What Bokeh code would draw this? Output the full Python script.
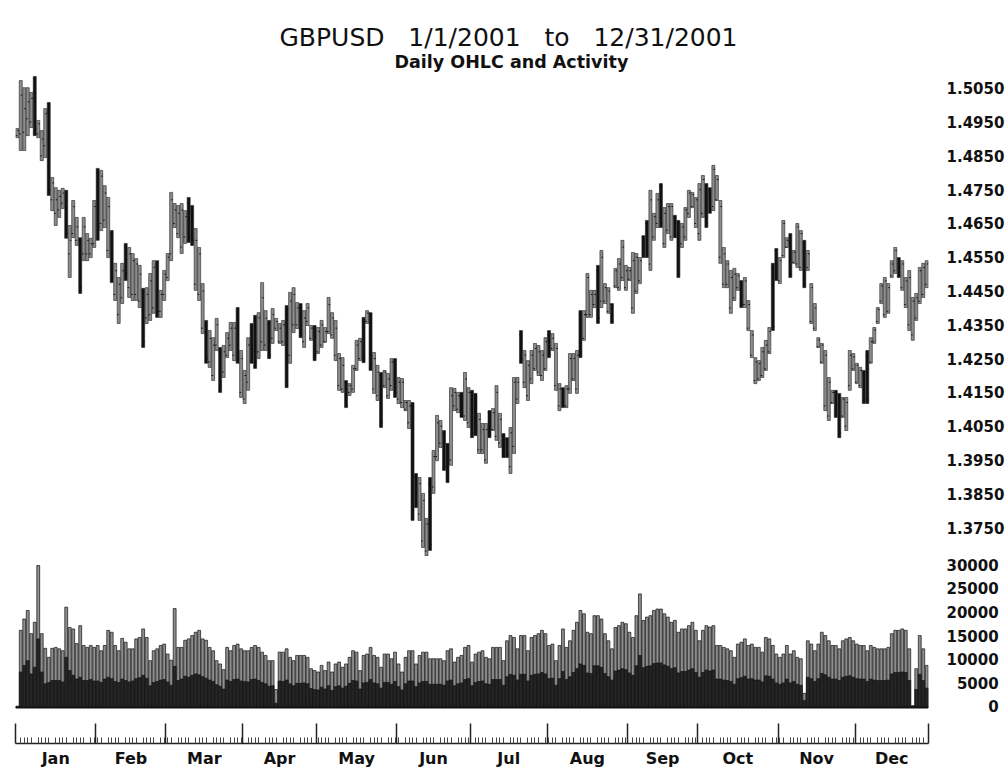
import numpy as np
from bokeh.plotting import figure
from bokeh.layouts import column
from bokeh.models import (Range1d, FixedTicker, Title, Span, LinearAxis,
                          NumeralTickFormatter, ColumnDataSource)
from bokeh.embed import file_html
from bokeh.resources import INLINE

title_text = "GBPUSD\u00a0\u00a0 1/1/2001\u00a0\u00a0 to\u00a0\u00a0 12/31/2001"
subtitle_text = "Daily OHLC and Activity"

months = ["Jan", "Feb", "Mar", "Apr", "May", "Jun",
          "Jul", "Aug", "Sep", "Oct", "Nov", "Dec"]
month_days = [23, 20, 22, 21, 23, 21, 22, 23, 20, 23, 22, 21]

price_ticks = [1.3750, 1.3850, 1.3950, 1.4050, 1.4150, 1.4250, 1.4350,
               1.4450, 1.4550, 1.4650, 1.4750, 1.4850, 1.4950, 1.5050]
volume_ticks = [0, 5000, 10000, 15000, 20000, 25000, 30000]

open_ = [
    1.4910, 1.4915, 1.4920, 1.4960, 1.4950, 1.5040, 1.4915, 1.4850, 1.4880, 1.4980, 1.4720, 1.4680, 1.4690, 1.4710, 1.4730, 1.4560, 1.4620, 1.4600, 1.4600, 1.4560, 1.4560, 1.4560, 1.4590,
    1.4800, 1.4650, 1.4660, 1.4570, 1.4620, 1.4440, 1.4380, 1.4430, 1.4580, 1.4460, 1.4440, 1.4440, 1.4420, 1.4450, 1.4370, 1.4380, 1.4400, 1.4530, 1.4390, 1.4440,
    1.4490, 1.4560, 1.4650, 1.4620, 1.4580, 1.4610, 1.4710, 1.4690, 1.4470, 1.4440, 1.4340, 1.4350, 1.4240, 1.4200, 1.4290, 1.4270, 1.4210, 1.4260, 1.4290, 1.4260, 1.4380, 1.4150,
    1.4130, 1.4180, 1.4340, 1.4360, 1.4270, 1.4300, 1.4290, 1.4350, 1.4310, 1.4340, 1.4300, 1.4300, 1.4380, 1.4260, 1.4350, 1.4350, 1.4400, 1.4300, 1.4360, 1.4310, 1.4340,
    1.4270, 1.4290, 1.4300, 1.4330, 1.4320, 1.4260, 1.4170, 1.4160, 1.4180, 1.4150, 1.4160, 1.4220, 1.4250, 1.4360, 1.4360, 1.4380, 1.4160, 1.4140, 1.4200, 1.4170, 1.4140, 1.4170, 1.4240,
    1.4130, 1.4120, 1.4100, 1.4060, 1.4100, 1.3900, 1.3790, 1.3710, 1.3680, 1.3880, 1.3870, 1.3960, 1.4000, 1.4030, 1.3990, 1.3950, 1.4110, 1.4100, 1.4140, 1.4080, 1.4060,
    1.4150, 1.4140, 1.3980, 1.3980, 1.3950, 1.4090, 1.4040, 1.4020, 1.4000, 1.4020, 1.4010, 1.3930, 1.3990, 1.4130, 1.4320, 1.4180, 1.4140, 1.4190, 1.4220, 1.4210, 1.4200, 1.4220,
    1.4320, 1.4280, 1.4170, 1.4110, 1.4160, 1.4110, 1.4160, 1.4190, 1.4160, 1.4380, 1.4310, 1.4380, 1.4380, 1.4410, 1.4510, 1.4420, 1.4420, 1.4390, 1.4410, 1.4465, 1.4460, 1.4490, 1.4460,
    1.4485, 1.4400, 1.4450, 1.4480, 1.4610, 1.4650, 1.4530, 1.4610, 1.4650, 1.4760, 1.4590, 1.4630, 1.4610, 1.4670, 1.4650, 1.4590, 1.4610, 1.4680, 1.4700, 1.4650,
    1.4620, 1.4680, 1.4760, 1.4750, 1.4700, 1.4720, 1.4550, 1.4470, 1.4470, 1.4400, 1.4430, 1.4460, 1.4475, 1.4410, 1.4340, 1.4260, 1.4185, 1.4190, 1.4200, 1.4220, 1.4270, 1.4520, 1.4570,
    1.4480, 1.4555, 1.4580, 1.4610, 1.4535, 1.4530, 1.4520, 1.4590, 1.4520, 1.4360, 1.4340, 1.4285, 1.4240, 1.4110, 1.4080, 1.4120, 1.4150, 1.4140, 1.4080, 1.4050, 1.4170, 1.4220,
    1.4180, 1.4170, 1.4210, 1.4260, 1.4240, 1.4300, 1.4360, 1.4420, 1.4380, 1.4390, 1.4495, 1.4510, 1.4545, 1.4460, 1.4410, 1.4350, 1.4320, 1.4370, 1.4420, 1.4440, 1.4470,
]
high = [
    1.4931, 1.5073, 1.5052, 1.5052, 1.5038, 1.5085, 1.4955, 1.4925, 1.4990, 1.5008, 1.4786, 1.4756, 1.4748, 1.4754, 1.4748, 1.4644, 1.4718, 1.4668, 1.4608, 1.4668, 1.4620, 1.4606, 1.4718,
    1.4813, 1.4807, 1.4762, 1.4727, 1.4629, 1.4532, 1.4490, 1.4532, 1.4591, 1.4579, 1.4561, 1.4546, 1.4526, 1.4458, 1.4460, 1.4502, 1.4540, 1.4540, 1.4452, 1.4511,
    1.4561, 1.4742, 1.4709, 1.4703, 1.4709, 1.4688, 1.4727, 1.4703, 1.4635, 1.4579, 1.4472, 1.4363, 1.4333, 1.4312, 1.4369, 1.4283, 1.4289, 1.4327, 1.4357, 1.4357, 1.4401, 1.4274,
    1.4215, 1.4312, 1.4354, 1.4378, 1.4386, 1.4475, 1.4392, 1.4363, 1.4398, 1.4369, 1.4354, 1.4363, 1.4407, 1.4446, 1.4460, 1.4416, 1.4413, 1.4392, 1.4413, 1.4348, 1.4348,
    1.4342, 1.4363, 1.4342, 1.4431, 1.4386, 1.4363, 1.4265, 1.4253, 1.4185, 1.4176, 1.4230, 1.4304, 1.4310, 1.4372, 1.4392, 1.4386, 1.4268, 1.4230, 1.4209, 1.4215, 1.4206, 1.4250, 1.4250,
    1.4194, 1.4191, 1.4126, 1.4126, 1.4120, 1.3910, 1.3898, 1.3851, 1.3777, 1.3898, 1.3978, 1.4082, 1.4067, 1.4037, 1.3999, 1.4164, 1.4162, 1.4150, 1.4150, 1.4209, 1.4164,
    1.4156, 1.4147, 1.4088, 1.4058, 1.4058, 1.4096, 1.4102, 1.4170, 1.4088, 1.4028, 1.4016, 1.4046, 1.4194, 1.4194, 1.4333, 1.4274, 1.4244, 1.4274, 1.4295, 1.4289, 1.4274, 1.4312,
    1.4333, 1.4324, 1.4295, 1.4176, 1.4164, 1.4170, 1.4265, 1.4265, 1.4274, 1.4392, 1.4392, 1.4502, 1.4452, 1.4452, 1.4526, 1.4570, 1.4472, 1.4460, 1.4413, 1.4517, 1.4546, 1.4600, 1.4526,
    1.4520, 1.4564, 1.4561, 1.4549, 1.4614, 1.4659, 1.4748, 1.4680, 1.4739, 1.4768, 1.4697, 1.4709, 1.4709, 1.4674, 1.4659, 1.4650, 1.4697, 1.4748, 1.4742, 1.4727,
    1.4768, 1.4792, 1.4768, 1.4756, 1.4822, 1.4792, 1.4718, 1.4579, 1.4540, 1.4511, 1.4517, 1.4502, 1.4481, 1.4490, 1.4422, 1.4333, 1.4253, 1.4244, 1.4283, 1.4304, 1.4342, 1.4532, 1.4576,
    1.4549, 1.4659, 1.4608, 1.4620, 1.4570, 1.4650, 1.4629, 1.4600, 1.4570, 1.4472, 1.4413, 1.4312, 1.4295, 1.4274, 1.4194, 1.4156, 1.4156, 1.4147, 1.4135, 1.4135, 1.4274, 1.4265,
    1.4236, 1.4224, 1.4215, 1.4274, 1.4312, 1.4342, 1.4401, 1.4472, 1.4490, 1.4472, 1.4540, 1.4579, 1.4549, 1.4540, 1.4490, 1.4511, 1.4431, 1.4443, 1.4520, 1.4532, 1.4540,
]
low = [
    1.4904, 1.4866, 1.4866, 1.4910, 1.4934, 1.4910, 1.4904, 1.4836, 1.4845, 1.4733, 1.4688, 1.4644, 1.4668, 1.4694, 1.4606, 1.4490, 1.4608, 1.4585, 1.4443, 1.4540, 1.4540, 1.4549, 1.4579,
    1.4600, 1.4629, 1.4638, 1.4549, 1.4475, 1.4422, 1.4354, 1.4413, 1.4481, 1.4431, 1.4422, 1.4422, 1.4401, 1.4283, 1.4354, 1.4363, 1.4384, 1.4372, 1.4372, 1.4422,
    1.4481, 1.4540, 1.4638, 1.4608, 1.4561, 1.4591, 1.4594, 1.4585, 1.4452, 1.4422, 1.4324, 1.4236, 1.4224, 1.4185, 1.4274, 1.4150, 1.4194, 1.4253, 1.4274, 1.4244, 1.4236, 1.4135,
    1.4117, 1.4156, 1.4236, 1.4221, 1.4250, 1.4274, 1.4274, 1.4250, 1.4295, 1.4333, 1.4295, 1.4289, 1.4164, 1.4236, 1.4327, 1.4339, 1.4312, 1.4283, 1.4348, 1.4304, 1.4244,
    1.4265, 1.4283, 1.4298, 1.4324, 1.4310, 1.4244, 1.4156, 1.4150, 1.4105, 1.4141, 1.4150, 1.4215, 1.4244, 1.4238, 1.4354, 1.4215, 1.4147, 1.4126, 1.4046, 1.4164, 1.4132, 1.4156, 1.4135,
    1.4117, 1.4105, 1.4096, 1.4043, 1.3771, 1.3809, 1.3771, 1.3691, 1.3666, 1.3682, 1.3851, 1.3948, 1.3987, 1.3919, 1.3883, 1.3934, 1.4096, 1.4090, 1.4076, 1.4067, 1.4046,
    1.4016, 1.4022, 1.3969, 1.3969, 1.3940, 1.4016, 1.4037, 1.4008, 1.3987, 1.3957, 1.3957, 1.3910, 1.3969, 1.4117, 1.4236, 1.4164, 1.4126, 1.4176, 1.4215, 1.4200, 1.4185, 1.4215,
    1.4253, 1.4274, 1.4156, 1.4096, 1.4105, 1.4105, 1.4147, 1.4185, 1.4147, 1.4253, 1.4304, 1.4372, 1.4372, 1.4401, 1.4354, 1.4401, 1.4413, 1.4384, 1.4354, 1.4460, 1.4452, 1.4481, 1.4452,
    1.4481, 1.4384, 1.4443, 1.4472, 1.4549, 1.4549, 1.4511, 1.4600, 1.4638, 1.4638, 1.4579, 1.4620, 1.4600, 1.4608, 1.4490, 1.4579, 1.4600, 1.4668, 1.4697, 1.4638,
    1.4600, 1.4668, 1.4638, 1.4680, 1.4688, 1.4718, 1.4532, 1.4460, 1.4460, 1.4384, 1.4422, 1.4452, 1.4401, 1.4401, 1.4333, 1.4253, 1.4176, 1.4185, 1.4194, 1.4215, 1.4265, 1.4333, 1.4481,
    1.4472, 1.4549, 1.4579, 1.4490, 1.4532, 1.4520, 1.4511, 1.4460, 1.4511, 1.4354, 1.4333, 1.4283, 1.4236, 1.4096, 1.4067, 1.4117, 1.4076, 1.4016, 1.4076, 1.4037, 1.4156, 1.4215,
    1.4176, 1.4164, 1.4117, 1.4117, 1.4236, 1.4295, 1.4354, 1.4413, 1.4372, 1.4384, 1.4490, 1.4502, 1.4490, 1.4452, 1.4401, 1.4333, 1.4304, 1.4363, 1.4413, 1.4431, 1.4460,
]
close = [
    1.4925, 1.5030, 1.4990, 1.5010, 1.5020, 1.4930, 1.4945, 1.4900, 1.4975, 1.4750, 1.4770, 1.4720, 1.4730, 1.4740, 1.4620, 1.4600, 1.4700, 1.4640, 1.4460, 1.4640, 1.4600, 1.4590, 1.4700,
    1.4640, 1.4790, 1.4740, 1.4700, 1.4490, 1.4510, 1.4470, 1.4510, 1.4500, 1.4560, 1.4540, 1.4530, 1.4500, 1.4300, 1.4440, 1.4480, 1.4520, 1.4390, 1.4440, 1.4500,
    1.4550, 1.4720, 1.4690, 1.4680, 1.4690, 1.4670, 1.4610, 1.4600, 1.4600, 1.4560, 1.4450, 1.4250, 1.4310, 1.4290, 1.4350, 1.4170, 1.4270, 1.4310, 1.4340, 1.4340, 1.4250, 1.4250,
    1.4200, 1.4290, 1.4250, 1.4240, 1.4370, 1.4430, 1.4370, 1.4260, 1.4380, 1.4360, 1.4340, 1.4350, 1.4250, 1.4420, 1.4440, 1.4400, 1.4320, 1.4370, 1.4400, 1.4340, 1.4260,
    1.4330, 1.4350, 1.4330, 1.4410, 1.4370, 1.4340, 1.4250, 1.4230, 1.4110, 1.4170, 1.4220, 1.4290, 1.4300, 1.4250, 1.4385, 1.4230, 1.4250, 1.4210, 1.4060, 1.4210, 1.4190, 1.4240, 1.4150,
    1.4180, 1.4180, 1.4120, 1.4110, 1.3800, 1.3820, 1.3880, 1.3830, 1.3760, 1.3700, 1.3960, 1.4060, 1.4050, 1.3930, 1.3900, 1.4140, 1.4150, 1.4140, 1.4090, 1.4190, 1.4150,
    1.4030, 1.4040, 1.4070, 1.4040, 1.4040, 1.4030, 1.4090, 1.4150, 1.4070, 1.3965, 1.3965, 1.4030, 1.4180, 1.4180, 1.4250, 1.4260, 1.4230, 1.4260, 1.4280, 1.4270, 1.4260, 1.4300,
    1.4260, 1.4310, 1.4280, 1.4160, 1.4110, 1.4160, 1.4250, 1.4250, 1.4260, 1.4270, 1.4380, 1.4490, 1.4440, 1.4440, 1.4370, 1.4550, 1.4460, 1.4450, 1.4360, 1.4510, 1.4530, 1.4580, 1.4510,
    1.4510, 1.4540, 1.4550, 1.4540, 1.4555, 1.4560, 1.4720, 1.4670, 1.4720, 1.4650, 1.4680, 1.4700, 1.4700, 1.4610, 1.4500, 1.4640, 1.4690, 1.4740, 1.4735, 1.4720,
    1.4750, 1.4780, 1.4650, 1.4690, 1.4810, 1.4780, 1.4700, 1.4560, 1.4530, 1.4490, 1.4500, 1.4495, 1.4410, 1.4480, 1.4410, 1.4320, 1.4240, 1.4235, 1.4270, 1.4290, 1.4330, 1.4345, 1.4490,
    1.4540, 1.4650, 1.4600, 1.4500, 1.4565, 1.4640, 1.4620, 1.4470, 1.4560, 1.4460, 1.4400, 1.4305, 1.4290, 1.4260, 1.4180, 1.4150, 1.4085, 1.4030, 1.4130, 1.4120, 1.4260, 1.4255,
    1.4230, 1.4215, 1.4130, 1.4130, 1.4300, 1.4335, 1.4395, 1.4465, 1.4480, 1.4460, 1.4530, 1.4570, 1.4495, 1.4530, 1.4480, 1.4490, 1.4420, 1.4430, 1.4510, 1.4520, 1.4530,
]
volume = [
    300, 16300, 18700, 20500, 15600, 18000, 30000, 15600, 12500, 10600, 12500, 12700, 12400, 12000, 21200, 16900, 16600, 13500, 17300, 13100, 12700, 13100, 12700,
    13100, 12000, 13100, 16300, 15900, 13100, 12000, 14600, 13800, 12400, 12400, 14500, 14800, 16600, 14800, 9900, 12000, 12400, 13100, 13400,
    11300, 10000, 20900, 12700, 12700, 14200, 14500, 15200, 15900, 16300, 14500, 14200, 12700, 12000, 9900, 9200, 8000, 12700, 12000, 13100, 13400, 12400,
    12000, 12000, 12700, 13100, 12700, 11700, 11000, 9900, 9900, 3800, 11700, 11700, 12400, 10600, 9900, 11000, 11000, 11000, 10600, 8200, 7800,
    7500, 8900, 7800, 9600, 7500, 9200, 9600, 8500, 9200, 10600, 12000, 11700, 7800, 11000, 11300, 12700, 11000, 10600, 8500, 11300, 11300, 10300, 11700,
    9200, 7500, 10600, 12000, 12000, 9200, 11000, 11700, 11700, 10300, 10300, 10300, 10300, 9900, 12000, 12400, 9600, 10600, 11000, 12700, 13100,
    9600, 11300, 11700, 12000, 10600, 10300, 12700, 12700, 12700, 9900, 14100, 15200, 14800, 12400, 15200, 15200, 12000, 14800, 15200, 15600, 16300, 15600,
    13100, 13400, 9900, 13100, 16600, 12700, 14100, 16300, 18000, 20500, 19800, 15900, 15600, 19400, 19400, 18700, 15600, 14100, 12400, 16900, 17300, 18000, 17700,
    15900, 14800, 19400, 24000, 18400, 19100, 19400, 20500, 20800, 20800, 19800, 19100, 18000, 18400, 15900, 16600, 16600, 17300, 18000, 16300,
    14100, 16300, 17300, 17000, 17300, 13100, 13100, 12700, 12400, 12000, 10600, 13400, 13800, 14500, 13100, 13400, 12700, 12700, 11700, 14800, 14500, 13100, 11300,
    10600, 11300, 13100, 11300, 12000, 10600, 10300, 3000, 14100, 13400, 12000, 13400, 15900, 15200, 14100, 13100, 13100, 12400, 14100, 14500, 14800, 14100,
    13400, 13100, 13100, 12000, 13100, 12700, 12400, 12400, 12400, 12700, 15600, 16300, 16300, 16600, 16300, 12400, 400, 8200, 15200, 12400, 8900,
]
volume_dark = [
    100, 7500, 8900, 9900, 7100, 8500, 14500, 7500, 5000, 5300, 5700, 5700, 5700, 5400, 10600, 7800, 6800, 6000, 6400, 5700, 5700, 5900, 5600,
    5600, 5300, 6000, 6400, 6100, 5500, 5300, 6000, 5700, 5400, 5600, 6100, 6300, 6800, 6200, 4600, 5300, 5500, 5800, 5900,
    5400, 4700, 8700, 5700, 6000, 6600, 6400, 6800, 7100, 6900, 6500, 6200, 5800, 5500, 4800, 4500, 3900, 5800, 5500, 5900, 6000, 5600,
    5500, 5400, 5900, 6000, 5700, 5300, 5000, 4500, 4600, 900, 5600, 5500, 5800, 5000, 4600, 5100, 5100, 5200, 5000, 4000, 3800,
    3700, 4300, 3900, 4600, 3600, 4400, 4600, 4100, 4500, 5100, 5700, 5600, 3900, 5200, 5300, 5900, 5200, 5000, 4100, 5300, 5300, 4900, 5500,
    4400, 3700, 5000, 5600, 5600, 4400, 5200, 5500, 5500, 4900, 4900, 4900, 4900, 4700, 5600, 5800, 4600, 5000, 5200, 5900, 6100,
    4600, 5300, 5500, 5600, 5000, 4900, 5900, 5900, 5900, 4700, 6500, 7000, 6800, 5800, 7000, 7000, 5600, 6800, 7000, 7100, 7400, 7100,
    6100, 6200, 4700, 6100, 7600, 5900, 6500, 7400, 8200, 9200, 8900, 7300, 7200, 8800, 8800, 8500, 7200, 6500, 5800, 7700, 7900, 8200, 8000,
    7300, 6800, 8800, 11000, 8400, 8700, 8800, 9300, 9400, 9400, 9000, 8700, 8200, 8400, 7300, 7600, 7600, 7900, 8200, 7400,
    6400, 7400, 7900, 7700, 7900, 6000, 6000, 5800, 5700, 5500, 4900, 6100, 6300, 6600, 6000, 6100, 5800, 5800, 5400, 6700, 6600, 6000, 5200,
    4900, 5200, 6000, 5200, 5500, 4900, 4700, 1500, 6400, 6100, 5500, 6100, 7200, 6900, 6400, 6000, 6000, 5700, 6400, 6600, 6700, 6400,
    6100, 6000, 6000, 5500, 6000, 5800, 5700, 5700, 5700, 5800, 7100, 7400, 7400, 7500, 7400, 5700, 200, 3800, 7000, 5700, 4100,
]

FONT = "DejaVu Sans"
INK = "#111111"
n = len(close)
x = np.arange(n) + 0.5
o = np.array(open_)
c = np.array(close)
bar_fill = np.where(c >= o, "#8c8c8c", "#111111")

src = ColumnDataSource(dict(
    x=x, xl=x - 0.45, xr=x + 0.45, open=o, high=high, low=low, close=c,
    fill=bar_fill, vol=volume, vol_dark=volume_dark))

bounds = np.concatenate([[0], np.cumsum(month_days)])
centers = (bounds[:-1] + bounds[1:]) / 2.0
day_ticks = [float(v) for v in x if int(v) % 5 != 0]

xr = Range1d(0, n)

# ---------------- price panel ----------------
p = figure(frame_width=913, frame_height=486, x_range=xr,
           y_range=Range1d(1.36642, 1.51028),
           output_backend="svg", toolbar_location=None, title=None,
           y_axis_location="right", x_axis_location=None,
           min_border_left=15, min_border_right=76, min_border_top=70,
           min_border_bottom=0, outline_line_color=None,
           background_fill_color="white", border_fill_color="white")
p.grid.visible = False

p.add_layout(Title(text=subtitle_text, text_font=FONT, text_font_size="17.5px",
                   text_font_style="bold", align="left", offset=379,
                   standoff=-2, text_line_height=0.85, text_color=INK), "above")
p.add_layout(Title(text=title_text, text_font=FONT, text_font_size="25px",
                   text_font_style="normal", align="left", offset=264,
                   standoff=-2, text_color=INK), "above")

p.vbar(x="x", top="high", bottom="low", width=0.86, fill_color="fill",
       line_color="#222222", line_width=0.6, source=src)
p.segment(x0="xl", y0="open", x1="x", y1="open", line_color=INK,
          line_width=1, source=src)
p.segment(x0="x", y0="close", x1="xr", y1="close", line_color=INK,
          line_width=1, source=src)

ya = p.yaxis[0]
ya.ticker = FixedTicker(ticks=price_ticks)
ya.formatter = NumeralTickFormatter(format="0.0000")
ya.axis_line_color = None
ya.major_tick_line_color = None
ya.minor_tick_line_color = None
ya.major_label_standoff = 12
ya.major_label_text_font = FONT
ya.major_label_text_font_size = "15px"
ya.major_label_text_font_style = "bold"
ya.major_label_text_color = INK

# ---------------- volume panel ----------------
v = figure(frame_width=913, frame_height=183, x_range=xr,
           y_range=Range1d(-7607, 31061),
           output_backend="svg", toolbar_location=None, title=None,
           y_axis_location="right",
           min_border_left=15, min_border_right=76, min_border_top=4,
           min_border_bottom=35, outline_line_color=None,
           background_fill_color="white", border_fill_color="white")
v.grid.visible = False

v.vbar(x="x", top="vol", bottom=0, width=0.82, fill_color="#8e8e8e",
       line_color=INK, line_width=0.7, source=src)
v.vbar(x="x", top="vol_dark", bottom=0, width=0.82, fill_color="#262626",
       line_color=INK, line_width=0.7, source=src)
v.add_layout(Span(location=0, dimension="width", line_color=INK,
                  line_width=2))

# right-align the volume labels (figure spaces have the width of a digit)
vol_labels = {}
for t in volume_ticks:
    s = str(t)
    vol_labels[t] = "\u2007" * (5 - len(s)) + s

vy = v.yaxis[0]
vy.ticker = FixedTicker(ticks=volume_ticks)
vy.major_label_overrides = vol_labels
vy.axis_line_color = None
vy.major_tick_line_color = None
vy.minor_tick_line_color = None
vy.major_label_standoff = 12
vy.major_label_text_font = FONT
vy.major_label_text_font_size = "15px"
vy.major_label_text_font_style = "bold"
vy.major_label_text_color = INK

xa = v.xaxis[0]
xa.ticker = FixedTicker(ticks=[float(b) for b in bounds], minor_ticks=day_ticks)
xa.major_tick_in = 20
xa.major_tick_out = 0
xa.minor_tick_in = 6
xa.minor_tick_out = 0
xa.axis_line_color = "#222222"
xa.axis_line_width = 1.5
xa.major_tick_line_color = "#222222"
xa.major_tick_line_width = 1.5
xa.minor_tick_line_color = "#444444"
xa.major_label_text_font_size = "0px"
xa.major_label_text_color = None
xa.major_label_standoff = 0

la = LinearAxis(ticker=FixedTicker(ticks=[float(cc) for cc in centers]),
                major_label_overrides={float(cc): m for cc, m in zip(centers, months)})
la.axis_line_color = None
la.major_tick_line_color = None
la.minor_tick_line_color = None
la.major_tick_out = 0
la.major_tick_in = 0
la.major_label_standoff = 5
la.major_label_text_font = FONT
la.major_label_text_font_size = "16px"
la.major_label_text_font_style = "bold"
la.major_label_text_color = INK
v.add_layout(la, "below")

layout = column(p, v, spacing=0)
open("out.html", "w").write(file_html(layout, INLINE))
